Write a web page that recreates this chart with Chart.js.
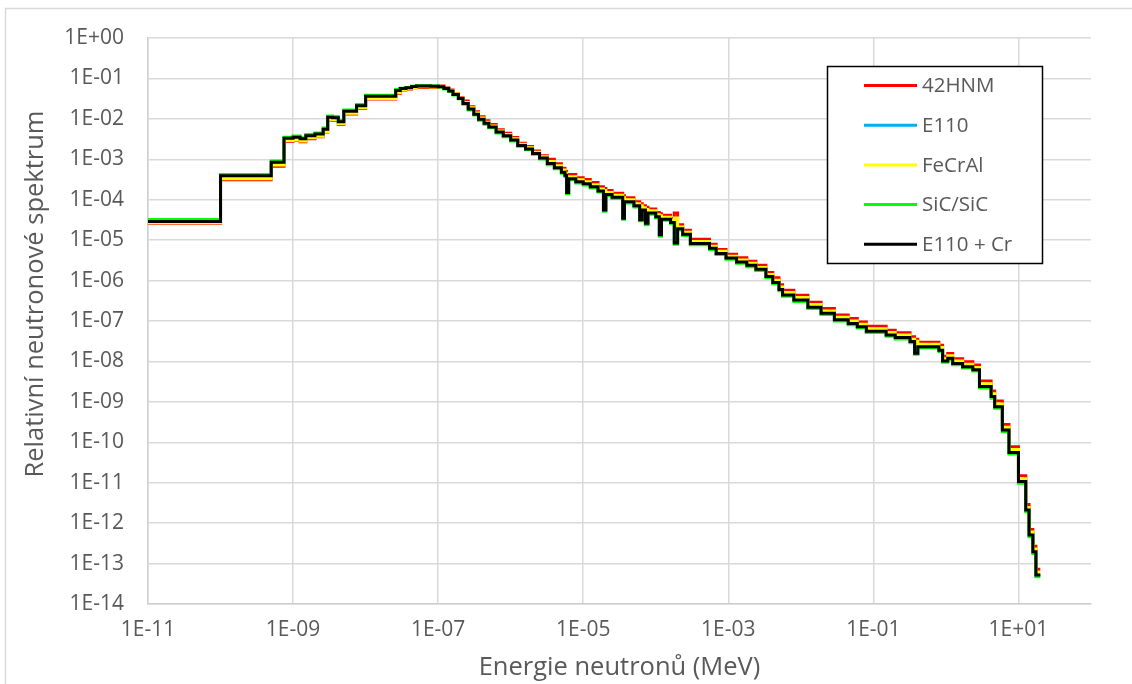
<!DOCTYPE html>
<html>
<head>
<meta charset="utf-8">
<script src="https://cdn.jsdelivr.net/npm/chart.js@4.4.1/dist/chart.umd.min.js"></script>
<style>
    body { margin: 0; background: #ffffff; }
    #obal { width: 1132px; height: 684px; }
</style>
</head>
<body>
<div id="obal"><canvas id="chartSpektrum" width="1132" height="684"></canvas></div>
<script>
// Hranice energetických grup (MeV): dolní meze všech grup + horní mez poslední
const energie = [
    1e-11, 1e-10, 5e-10, 7.5e-10, 1e-9, 1.25e-9, 1.5e-9, 2e-9, 2.6e-9, 3e-9,
    3.5e-9, 4.2e-9, 5e-9, 7.5e-9, 1e-8, 2.6e-8, 3e-8, 3.6e-8, 4.3e-8, 5e-8,
    6.3e-8, 7.9e-8, 1e-7, 1.2e-7, 1.4e-7, 1.6e-7, 1.9e-7, 2.2e-7, 2.6e-7, 3.1e-7,
    3.6e-7, 4.3e-7, 5e-7, 6.3e-7, 7.9e-7, 1e-6, 1.25e-6, 1.6e-6, 2e-6, 2.5e-6,
    3.2e-6, 4e-6, 5e-6, 5.6e-6, 5.9e-6, 6.3e-6, 7.9e-6, 1e-5, 1.25e-5, 1.6e-5,
    1.9e-5, 2.05e-5, 2.5e-5, 3.5e-5, 3.7e-5, 5e-5, 6e-5, 6.5e-5, 7.2e-5, 7.8e-5,
    1e-4, 1.12e-4, 1.2e-4, 1.6e-4, 1.8e-4, 2e-4, 2.35e-4, 3e-4, 5.5e-4, 6.8e-4,
    9.3e-4, 1.3e-3, 1.8e-3, 2.4e-3, 3.3e-3, 4.1e-3, 5e-3, 5.6e-3, 8e-3, 1.25e-2,
    1.9e-2, 2.9e-2, 4.5e-2, 6e-2, 8e-2, 0.15, 0.2, 0.32, 0.37, 0.41,
    0.8, 0.9, 1.06, 1.24, 1.7, 2.35, 2.9, 4.2, 4.7, 6.0,
    7.4, 10, 12.6, 14, 15.8, 17.4, 20
];

// Relativní spektrum v jednotlivých grupách
const spektrum42HNM = [
    2.6e-5, 3.1e-4, 6.7e-4, 2.8e-3, 3.0e-3, 2.7e-3, 3.2e-3, 3.6e-3, 4.7e-3, 9.4e-3,
    9.1e-3, 7.2e-3, 1.32e-2, 1.8e-2, 3.1e-2, 4.25e-2, 5.2e-2, 5.5e-2, 5.9e-2, 6.0e-2,
    6.0e-2, 6.0e-2, 6.5e-2, 5.9e-2, 5.15e-2, 4.2e-2, 3.35e-2, 2.75e-2, 2.0e-2, 1.5e-2,
    1.13e-2, 9.0e-3, 7.2e-3, 5.4e-3, 4.4e-3, 3.45e-3, 2.5e-3, 2.07e-3, 1.6e-3, 1.23e-3,
    1.0e-3, 7.8e-4, 6.0e-4, 5.0e-4, 3.8e-4, 4.2e-4, 3.5e-4, 3.15e-4, 2.65e-4, 2.1e-4,
    1.9e-4, 1.7e-4, 1.45e-4, 1.26e-4, 1.12e-4, 8.9e-5, 7.9e-5, 7.1e-5, 6.5e-5, 5.9e-5,
    4.8e-5, 4.5e-5, 4.15e-5, 3.45e-5, 4.7e-5, 2.4e-5, 1.76e-5, 1.05e-5, 7.9e-6, 5.9e-6,
    4.5e-6, 3.65e-6, 3.0e-6, 2.4e-6, 1.59e-6, 1.17e-6, 7.9e-7, 5.8e-7, 4.35e-7, 2.9e-7,
    2.05e-7, 1.41e-7, 1.15e-7, 9.5e-8, 7.4e-8, 5.9e-8, 5.1e-8, 4.1e-8, 3.55e-8, 3.0e-8,
    2.5e-8, 1.35e-8, 1.58e-8, 1.17e-8, 9.8e-9, 8.2e-9, 3.3e-9, 1.86e-9, 1.05e-9, 2.75e-10,
    7.7e-11, 1.48e-11, 2.9e-12, 7.0e-13, 2.7e-13, 7.2e-14
];

const spektrumE110 = [
    2.9e-5, 3.9e-4, 8.5e-4, 3.3e-3, 3.5e-3, 3.2e-3, 3.8e-3, 4.2e-3, 5.5e-3, 1.1e-2,
    1.07e-2, 8.5e-3, 1.55e-2, 2.1e-2, 3.6e-2, 5.0e-2, 5.6e-2, 5.9e-2, 6.3e-2, 6.5e-2,
    6.5e-2, 6.4e-2, 6.2e-2, 5.6e-2, 4.9e-2, 4.0e-2, 3.2e-2, 2.4e-2, 1.75e-2, 1.3e-2,
    9.8e-3, 7.8e-3, 6.3e-3, 4.7e-3, 3.8e-3, 3.0e-3, 2.2e-3, 1.8e-3, 1.4e-3, 1.07e-3,
    7.9e-4, 6.2e-4, 4.8e-4, 4.0e-4, 1.5e-4, 3.3e-4, 2.8e-4, 2.5e-4, 2.1e-4, 1.65e-4,
    5.6e-5, 1.35e-4, 1.15e-4, 3.5e-5, 8.9e-5, 7.1e-5, 3.2e-5, 5.6e-5, 2.6e-5, 4.7e-5,
    3.8e-5, 1.35e-5, 3.3e-5, 2.75e-5, 8.5e-6, 1.9e-5, 1.4e-5, 8.3e-6, 6.3e-6, 4.7e-6,
    3.6e-6, 2.9e-6, 2.4e-6, 1.9e-6, 1.26e-6, 8.9e-7, 6.0e-7, 4.4e-7, 3.3e-7, 2.2e-7,
    1.55e-7, 1.07e-7, 8.7e-8, 7.2e-8, 5.6e-8, 4.5e-8, 3.9e-8, 3.1e-8, 1.6e-8, 2.3e-8,
    1.9e-8, 1.02e-8, 1.2e-8, 8.9e-9, 7.4e-9, 6.2e-9, 2.4e-9, 1.35e-9, 7.6e-10, 2.0e-10,
    5.6e-11, 1.07e-11, 2.1e-12, 5.1e-13, 1.95e-13, 5.2e-14
];

const spektrumFeCrAl = [
    2.7e-5, 3.3e-4, 7.2e-4, 2.9e-3, 3.1e-3, 2.85e-3, 3.4e-3, 3.7e-3, 4.9e-3, 9.8e-3,
    9.5e-3, 7.6e-3, 1.38e-2, 1.87e-2, 3.2e-2, 4.45e-2, 5.3e-2, 5.6e-2, 6.0e-2, 6.2e-2,
    6.2e-2, 6.1e-2, 6.3e-2, 5.7e-2, 5.0e-2, 4.1e-2, 3.25e-2, 2.55e-2, 1.87e-2, 1.39e-2,
    1.05e-2, 8.3e-3, 6.7e-3, 5.0e-3, 4.1e-3, 3.2e-3, 2.35e-3, 1.93e-3, 1.5e-3, 1.15e-3,
    8.8e-4, 6.9e-4, 5.4e-4, 4.5e-4, 3.55e-4, 3.7e-4, 3.1e-4, 2.8e-4, 2.35e-4, 1.85e-4,
    1.7e-4, 1.5e-4, 1.29e-4, 1.12e-4, 1.0e-4, 8.0e-5, 7.1e-5, 6.3e-5, 5.75e-5, 5.3e-5,
    4.25e-5, 4.0e-5, 3.7e-5, 3.1e-5, 3.55e-5, 2.1e-5, 1.57e-5, 9.3e-6, 7.1e-6, 5.3e-6,
    4.0e-6, 3.25e-6, 2.7e-6, 2.1e-6, 1.41e-6, 1.02e-6, 6.9e-7, 5.1e-7, 3.8e-7, 2.55e-7,
    1.78e-7, 1.23e-7, 1.0e-7, 8.3e-8, 6.4e-8, 5.2e-8, 4.5e-8, 3.55e-8, 3.15e-8, 2.65e-8,
    2.2e-8, 1.17e-8, 1.38e-8, 1.02e-8, 8.5e-9, 7.1e-9, 2.8e-9, 1.58e-9, 8.9e-10, 2.35e-10,
    6.6e-11, 1.25e-11, 2.45e-12, 6.0e-13, 2.3e-13, 6.1e-14
];

const spektrumSiC = [
    3.25e-5, 4.2e-4, 9.1e-4, 3.5e-3, 3.75e-3, 3.4e-3, 4.1e-3, 4.5e-3, 5.9e-3, 1.18e-2,
    1.15e-2, 9.1e-3, 1.66e-2, 2.25e-2, 3.85e-2, 5.35e-2, 5.7e-2, 6.0e-2, 6.4e-2, 6.6e-2,
    6.6e-2, 6.5e-2, 6.1e-2, 5.5e-2, 4.8e-2, 3.9e-2, 3.15e-2, 2.3e-2, 1.66e-2, 1.24e-2,
    9.3e-3, 7.4e-3, 6.0e-3, 4.5e-3, 3.6e-3, 2.85e-3, 2.1e-3, 1.71e-3, 1.33e-3, 1.02e-3,
    7.3e-4, 5.8e-4, 4.5e-4, 3.7e-4, 1.4e-4, 3.1e-4, 2.6e-4, 2.3e-4, 1.95e-4, 1.55e-4,
    5.2e-5, 1.25e-4, 1.07e-4, 3.3e-5, 8.3e-5, 6.6e-5, 3.0e-5, 5.2e-5, 2.4e-5, 4.4e-5,
    3.55e-5, 1.25e-5, 3.1e-5, 2.55e-5, 7.9e-6, 1.77e-5, 1.3e-5, 7.7e-6, 5.9e-6, 4.4e-6,
    3.35e-6, 2.7e-6, 2.2e-6, 1.77e-6, 1.17e-6, 8.3e-7, 5.6e-7, 4.1e-7, 3.05e-7, 2.05e-7,
    1.44e-7, 1.0e-7, 8.1e-8, 6.7e-8, 5.2e-8, 4.2e-8, 3.6e-8, 2.9e-8, 1.5e-8, 2.15e-8,
    1.77e-8, 9.5e-9, 1.12e-8, 8.3e-9, 6.9e-9, 5.8e-9, 2.2e-9, 1.23e-9, 6.9e-10, 1.82e-10,
    5.1e-11, 9.7e-12, 1.9e-12, 4.6e-13, 1.77e-13, 4.7e-14
];

const spektrumE110Cr = [
    2.9e-5, 3.9e-4, 8.5e-4, 3.3e-3, 3.5e-3, 3.2e-3, 3.8e-3, 4.2e-3, 5.5e-3, 1.1e-2,
    1.07e-2, 8.5e-3, 1.55e-2, 2.1e-2, 3.6e-2, 5.0e-2, 5.6e-2, 5.9e-2, 6.3e-2, 6.5e-2,
    6.5e-2, 6.4e-2, 6.2e-2, 5.6e-2, 4.9e-2, 4.0e-2, 3.2e-2, 2.4e-2, 1.75e-2, 1.3e-2,
    9.8e-3, 7.8e-3, 6.3e-3, 4.7e-3, 3.8e-3, 3.0e-3, 2.2e-3, 1.8e-3, 1.4e-3, 1.07e-3,
    7.9e-4, 6.2e-4, 4.8e-4, 4.0e-4, 1.5e-4, 3.3e-4, 2.8e-4, 2.5e-4, 2.1e-4, 1.65e-4,
    5.6e-5, 1.35e-4, 1.15e-4, 3.5e-5, 8.9e-5, 7.1e-5, 3.2e-5, 5.6e-5, 2.6e-5, 4.7e-5,
    3.8e-5, 1.35e-5, 3.3e-5, 2.75e-5, 8.5e-6, 1.9e-5, 1.4e-5, 8.3e-6, 6.3e-6, 4.7e-6,
    3.6e-6, 2.9e-6, 2.4e-6, 1.9e-6, 1.26e-6, 8.9e-7, 6.0e-7, 4.4e-7, 3.3e-7, 2.2e-7,
    1.55e-7, 1.07e-7, 8.7e-8, 7.2e-8, 5.6e-8, 4.5e-8, 3.9e-8, 3.1e-8, 1.6e-8, 2.3e-8,
    1.9e-8, 1.02e-8, 1.2e-8, 8.9e-9, 7.4e-9, 6.2e-9, 2.4e-9, 1.35e-9, 7.6e-10, 2.0e-10,
    5.6e-11, 1.07e-11, 2.1e-12, 5.1e-13, 1.95e-13, 5.2e-14
];

const popisky = ["42HNM", "E110", "FeCrAl", "SiC/SiC", "E110 + Cr"];
const barvy = ["#ff0000", "#00b0f0", "#ffff00", "#00ff00", "#000000"];
const tickyX = [1e-11, 1e-9, 1e-7, 1e-5, 1e-3, 1e-1, 1e1];
const tickyY = [1, 1e-1, 1e-2, 1e-3, 1e-4, 1e-5, 1e-6, 1e-7, 1e-8, 1e-9, 1e-10, 1e-11, 1e-12, 1e-13, 1e-14];
const titulekX = "Energie neutronů (MeV)";
const titulekY = "Relativní neutronové spektrum";

const sedaText = "#595959";
const pismo = "'Open Sans', 'DejaVu Sans', sans-serif";

// Schodovitý průběh: bod na dolní mezi každé grupy + konec poslední grupy
function schody(hodnoty) {
    const body = hodnoty.map((v, i) => ({ x: energie[i], y: v }));
    body.push({ x: energie[hodnoty.length], y: hodnoty[hodnoty.length - 1] });
    return body;
}

// Popisek ve tvaru 1E-05
function formatExp(v) {
    const e = Math.round(Math.log10(v));
    return "1E" + (e < 0 ? "-" : "+") + String(Math.abs(e)).padStart(2, "0");
}

// Rámeček celého grafu
const ramecek = {
    id: "ramecek",
    beforeDraw(chart) {
        const ctx = chart.ctx;
        ctx.save();
        ctx.fillStyle = "#ffffff";
        ctx.fillRect(0, 0, chart.width, chart.height);
        ctx.strokeStyle = "#d9d9d9";
        ctx.lineWidth = 1.5;
        ctx.strokeRect(5.5, 8.5, chart.width + 20, chart.height + 20);
        ctx.restore();
    }
};

// Svislý titulek osy y (trochu nad středem plochy jako v Excelu)
const titulekOsyY = {
    id: "titulekOsyY",
    afterDraw(chart) {
        const ctx = chart.ctx;
        ctx.save();
        ctx.translate(36, 294);
        ctx.rotate(-Math.PI / 2);
        ctx.font = "25.5px " + pismo;
        ctx.fillStyle = sedaText;
        ctx.textAlign = "center";
        ctx.textBaseline = "middle";
        ctx.fillText(titulekY, 0, 0);
        ctx.restore();
    }
};

// Legenda v rámečku vpravo nahoře
const legenda = {
    id: "legenda",
    afterDraw(chart) {
        const ctx = chart.ctx;
        ctx.save();
        ctx.fillStyle = "#ffffff";
        ctx.fillRect(827, 66, 216, 198);
        ctx.strokeStyle = "#000000";
        ctx.lineWidth = 1.5;
        ctx.strokeRect(827.5, 66.5, 215, 197);
        ctx.font = "20.5px " + pismo;
        ctx.textBaseline = "middle";
        chart.data.datasets.forEach((ds, i) => {
            const y = 85.5 + i * 39.7;
            ctx.strokeStyle = ds.borderColor;
            ctx.lineWidth = 3;
            ctx.beginPath();
            ctx.moveTo(864, y);
            ctx.lineTo(917, y);
            ctx.stroke();
            ctx.fillStyle = sedaText;
            ctx.fillText(ds.label, 922, y + 1);
        });
        ctx.restore();
    }
};

const serie = [spektrum42HNM, spektrumE110, spektrumFeCrAl, spektrumSiC, spektrumE110Cr];

var ctxSpektrum = document.getElementById("chartSpektrum").getContext("2d");
var chartSpektrum = new Chart(ctxSpektrum, {
    type: "line",
    data: {
        datasets: serie.map((hodnoty, i) => ({
            label: popisky[i],
            data: schody(hodnoty),
            borderColor: barvy[i],
            backgroundColor: barvy[i],
            borderWidth: 3,
            pointRadius: 0,
            stepped: true,
            fill: false,
            order: serie.length - i
        }))
    },
    options: {
        responsive: false,
        animation: false,
        layout: { padding: { top: 38, right: 41, left: 0, bottom: 0 } },
        plugins: {
            legend: { display: false },
            tooltip: { enabled: false }
        },
        scales: {
            x: {
                type: "logarithmic",
                min: 1e-11,
                max: 1e2,
                afterBuildTicks: (s) => { s.ticks = tickyX.map(v => ({ value: v })); },
                afterFit: (s) => { s.height = 80; },
                ticks: {
                    callback: (v) => formatExp(v),
                    color: sedaText,
                    font: { family: pismo, size: 21 },
                    padding: 13,
                    maxRotation: 0,
                    autoSkip: false
                },
                grid: { color: "#d9d9d9", lineWidth: 1.5, drawTicks: false },
                border: { color: "#cfcfcf", width: 1.5 },
                title: {
                    display: true,
                    text: titulekX,
                    color: sedaText,
                    font: { family: pismo, size: 25.5 },
                    padding: { top: 0, bottom: 1 }
                }
            },
            y: {
                type: "logarithmic",
                min: 1e-14,
                max: 1,
                afterBuildTicks: (s) => { s.ticks = tickyY.map(v => ({ value: v })); },
                afterFit: (s) => { s.width = 148; },
                ticks: {
                    callback: (v) => formatExp(v),
                    color: sedaText,
                    font: { family: pismo, size: 21 },
                    padding: 24,
                    autoSkip: false
                },
                grid: { color: "#d9d9d9", lineWidth: 1.5, drawTicks: false },
                border: { color: "#cfcfcf", width: 1.5 }
            }
        }
    },
    plugins: [ramecek, titulekOsyY, legenda]
});
</script>
</body>
</html>
